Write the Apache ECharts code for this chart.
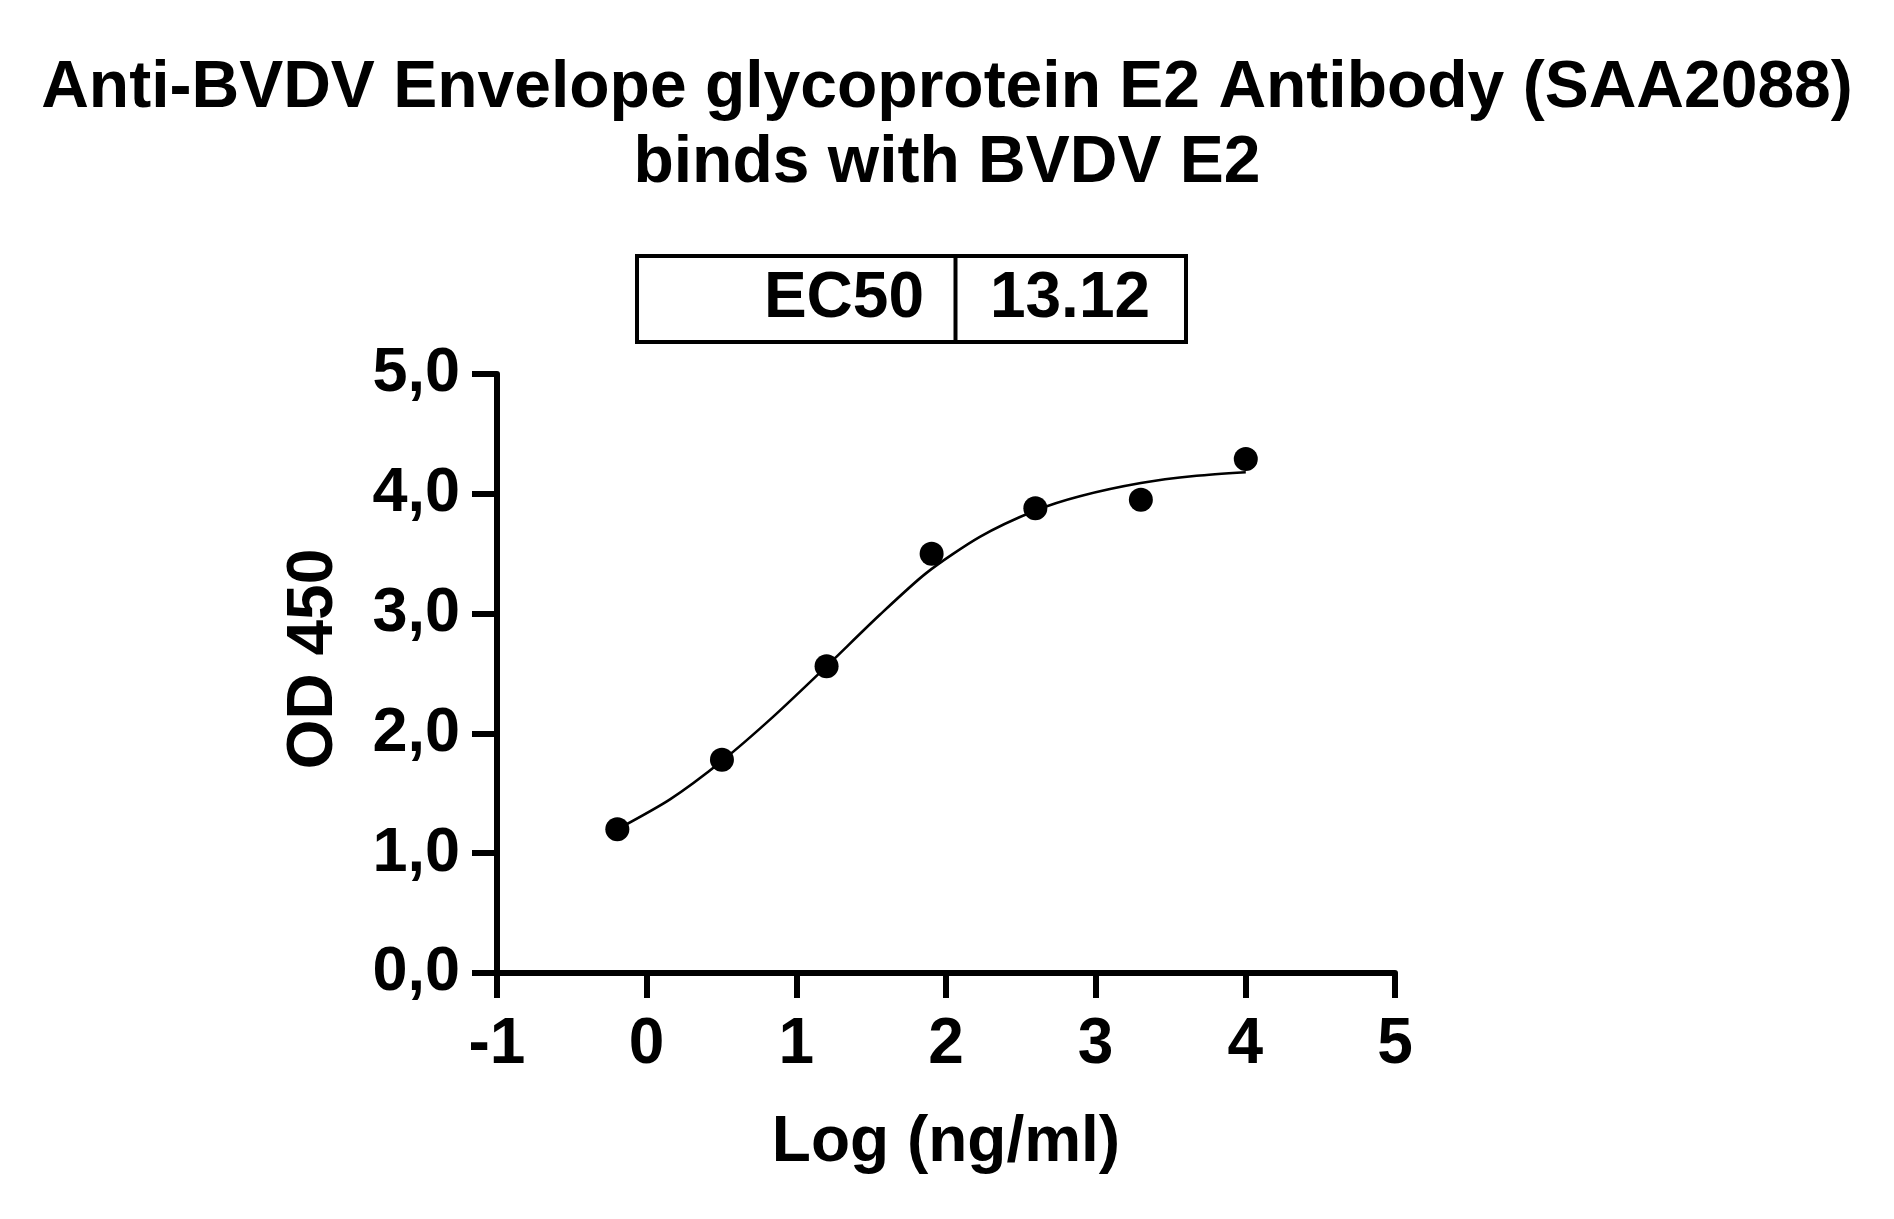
<!DOCTYPE html>
<html>
<head>
<meta charset="utf-8">
<script src="https://cdn.jsdelivr.net/npm/echarts@6/dist/echarts.min.js"></script>
<style>
html,body{margin:0;padding:0;background:#fff;}
#chart{width:1894px;height:1219px;}
</style>
</head>
<body>
<div id="chart"></div>
<script>
// ---- data ----
var titleLines = ['Anti-BVDV Envelope glycoprotein E2 Antibody (SAA2088)', 'binds with BVDV E2'];
var xAxisName = 'Log (ng/ml)';
var yAxisName = 'OD 450';
var ec50Label = 'EC50';
var ec50Value = '13.12';

var logConc = [-0.196, 0.503, 1.202, 1.904, 2.597, 3.302, 4.003];
var od450   = [1.20, 1.78, 2.56, 3.50, 3.88, 3.95, 4.29];

var curveX = [-0.196, 0.156, 0.503, 0.846, 1.202, 1.558, 1.870, 2.226, 2.597, 2.894, 3.302, 3.674, 4.003];
var curveY = [1.20, 1.45, 1.77, 2.14, 2.56, 2.99, 3.34, 3.64, 3.86, 3.98, 4.09, 4.15, 4.18];

var xTicks = [-1, 0, 1, 2, 3, 4, 5];
var yTicks = ['0,0', '1,0', '2,0', '3,0', '4,0', '5,0'];

// ---- chart ----
var FONT = '"Liberation Sans", Arial, Helvetica, sans-serif';
var chart = echarts.init(document.getElementById('chart'), null, {renderer: 'canvas'});

var pts = logConc.map(function (x, i) { return [x, od450[i]]; });
var curve = curveX.map(function (x, i) { return [x, curveY[i]]; });

function axisBase() {
  return {
    axisLine: {show: true, onZero: false, lineStyle: {color: '#000', width: 6}},
    axisTick: {show: true, inside: false, length: 25, lineStyle: {color: '#000', width: 6}},
    splitLine: {show: false},
    nameTextStyle: {color: '#000', fontSize: 64, fontWeight: 'bold', fontFamily: FONT}
  };
}

chart.setOption({
  backgroundColor: '#fff',
  animation: false,
  title: {
    text: titleLines.join('\n'),
    left: 'center',
    top: 46,
    textStyle: {color: '#000', fontSize: 66, fontWeight: 'bold', fontFamily: FONT, lineHeight: 75}
  },
  grid: {left: 497, right: 499, top: 374, bottom: 246, containLabel: false},
  xAxis: Object.assign(axisBase(), {
    type: 'value', min: -1, max: 5, interval: 1,
    name: xAxisName, nameLocation: 'middle', nameGap: 138,
    axisLabel: {
      color: '#000', fontSize: 64, fontWeight: 'bold', fontFamily: FONT, margin: 40,
      formatter: function (v) { var i = xTicks.indexOf(v); return i >= 0 ? String(xTicks[i]) : ''; }
    }
  }),
  yAxis: Object.assign(axisBase(), {
    type: 'value', min: 0, max: 5, interval: 1,
    axisLabel: {
      color: '#000', fontSize: 63, fontWeight: 'bold', fontFamily: FONT, margin: 37,
      formatter: function (v) { return yTicks[Math.round(v)] || ''; }
    }
  }),
  series: [
    {
      type: 'line', data: curve, smooth: 0.25, showSymbol: false, symbol: 'none',
      lineStyle: {color: '#000', width: 2.6}, z: 2
    },
    {
      type: 'scatter', data: pts, symbol: 'circle', symbolSize: 24,
      itemStyle: {color: '#000', opacity: 1}, z: 3
    }
  ],
  graphic: [
    {type: 'text', x: 314, y: 659, rotation: Math.PI / 2,
     style: {text: yAxisName, fill: '#000', font: 'bold 64px ' + FONT, textAlign: 'center', textVerticalAlign: 'middle'}},
    {type: 'rect', shape: {x: 637, y: 256, width: 549, height: 86},
     style: {fill: 'none', stroke: '#000', lineWidth: 4}},
    {type: 'line', shape: {x1: 955.5, y1: 256, x2: 955.5, y2: 342},
     style: {stroke: '#000', lineWidth: 4}},
    {type: 'text', x: 924, y: 299,
     style: {text: ec50Label, fill: '#000', font: 'bold 64px ' + FONT, textAlign: 'right', textVerticalAlign: 'middle'}},
    {type: 'text', x: 1070, y: 299,
     style: {text: ec50Value, fill: '#000', font: 'bold 64px ' + FONT, textAlign: 'center', textVerticalAlign: 'middle'}}
  ]
});
</script>
</body>
</html>
